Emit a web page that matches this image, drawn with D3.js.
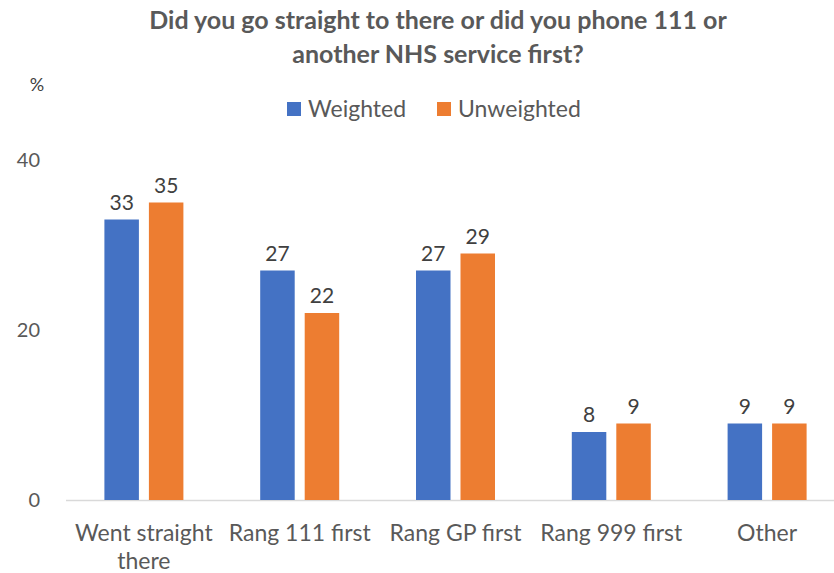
<!DOCTYPE html>
<html><head><meta charset="utf-8">
<script src="https://cdn.jsdelivr.net/npm/d3@7"></script>
<style>body{margin:0;background:#fff}svg{display:block}text{font-family:Lato,"Open Sans",sans-serif}</style>
</head><body><svg id="c" width="834" height="573"></svg>
<script>
const categories = [["Went straight","there"],["Rang 111 first"],["Rang GP first"],["Rang 999 first"],["Other"]];
const seriesNames = ["Weighted","Unweighted"];
const weighted = [33,27,27,8,9];
const unweighted = [35,22,29,9,9];
const yTicks = [0,20,40];
const colors = ["#4472C4","#ED7D31"];

const svg = d3.select("#c");
const x = d3.scaleBand().domain(d3.range(categories.length)).range([66,845]);
const y = d3.scaleLinear().domain([0,40]).range([500,160]);
const barW = 34.5, gap = 10;

// title
const title = svg.append("text").attr("x",438).attr("text-anchor","middle")
  .attr("fill","#595959").attr("font-weight","bold").attr("font-size",25);
title.append("tspan").attr("x",438).attr("y",29).text("Did you go straight to there or did you phone 111 or");
title.append("tspan").attr("x",438).attr("y",63).text("another NHS service first?");

svg.append("text").attr("x",37).attr("y",91).attr("text-anchor","middle").attr("fill","#404040").attr("font-size",18).text("%");

// legend
const leg = [{x:287,tx:308},{x:437,tx:458}];
seriesNames.forEach((n,i)=>{
  svg.append("rect").attr("x",leg[i].x).attr("y",102).attr("width",14).attr("height",14).attr("fill",colors[i]);
  svg.append("text").attr("x",leg[i].tx).attr("y",117).attr("fill","#595959").attr("font-size",23).text(n);
});

// y axis labels
yTicks.forEach(t=>{
  svg.append("text").attr("x",40).attr("y",y(t)+7).attr("text-anchor","end").attr("fill","#595959").attr("font-size",20).text(t);
});

// baseline
svg.append("line").attr("x1",66).attr("x2",834).attr("y1",y(0)+0.5).attr("y2",y(0)+0.5).attr("stroke","#d9d9d9").attr("stroke-width",1.5);

const series = [weighted, unweighted];
series.forEach((vals,si)=>{
  vals.forEach((v,i)=>{
    const cx = x(i)+x.bandwidth()/2;
    const bx = si===0 ? cx - gap/2 - barW : cx + gap/2;
    svg.append("rect").attr("x",bx).attr("y",y(v)).attr("width",barW).attr("height",y(0)-y(v)).attr("fill",colors[si]);
    svg.append("text").attr("x",bx+barW/2).attr("y",y(v)-10).attr("text-anchor","middle").attr("fill","#404040").attr("font-size",21).text(v);
  });
});

// category labels
categories.forEach((c,i)=>{
  const cx = x(i)+x.bandwidth()/2;
  c.forEach((line,li)=>{
    svg.append("text").attr("x",cx).attr("y",541+li*28).attr("text-anchor","middle").attr("fill","#595959").attr("font-size",23).text(line);
  });
});
</script></body></html>
